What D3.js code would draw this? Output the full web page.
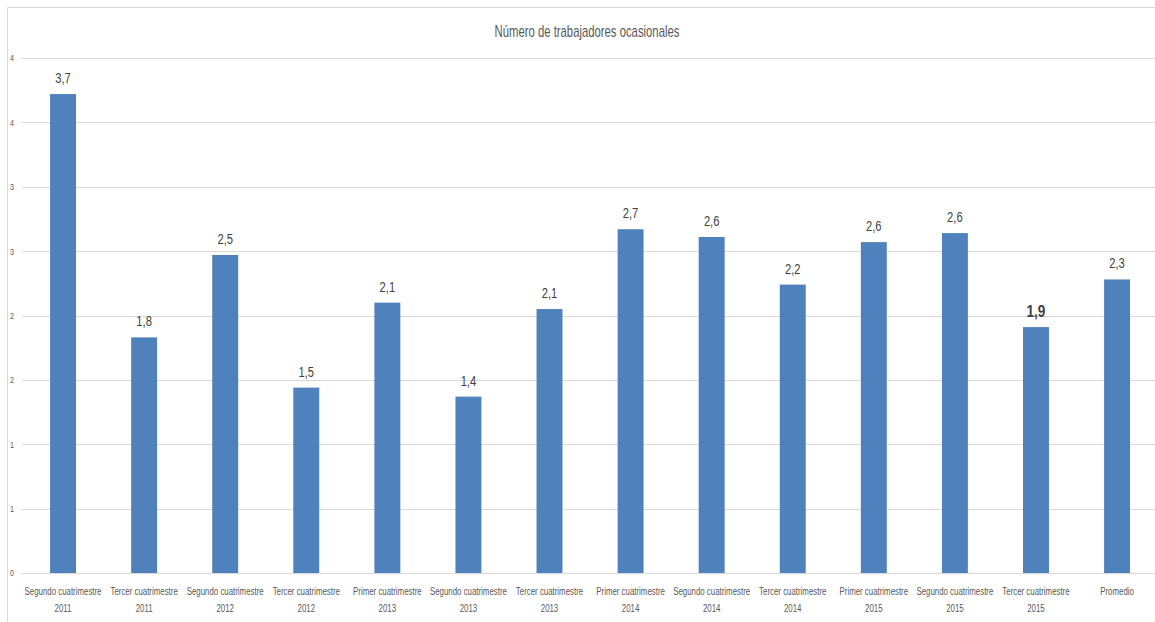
<!DOCTYPE html>
<html><head><meta charset="utf-8">
<script src="https://cdn.jsdelivr.net/npm/d3@7"></script>
<style>
body{margin:0;background:#fff;}
svg{display:block;font-family:"Liberation Sans",Arial,sans-serif;}
</style></head>
<body><svg id="c" width="1155" height="622"></svg>
<script>
const title = "Número de trabajadores ocasionales";
const categories = [
  ["Segundo cuatrimestre","2011"],["Tercer cuatrimestre","2011"],
  ["Segundo cuatrimestre","2012"],["Tercer cuatrimestre","2012"],
  ["Primer cuatrimestre","2013"],["Segundo cuatrimestre","2013"],
  ["Tercer cuatrimestre","2013"],["Primer cuatrimestre","2014"],
  ["Segundo cuatrimestre","2014"],["Tercer cuatrimestre","2014"],
  ["Primer cuatrimestre","2015"],["Segundo cuatrimestre","2015"],
  ["Tercer cuatrimestre","2015"],["Promedio",""]
];
const barValues = [3.72,1.83,2.47,1.44,2.10,1.37,2.05,2.67,2.61,2.24,2.57,2.64,1.91,2.28];
const valueLabels = ["3,7","1,8","2,5","1,5","2,1","1,4","2,1","2,7","2,6","2,2","2,6","2,6","1,9","2,3"];
const boldLabel = [false,false,false,false,false,false,false,false,false,false,false,false,true,false];
const yTicks = [0,0.5,1,1.5,2,2.5,3,3.5,4];
const yTickLabels = ["0","1","1","2","2","3","3","4","4"];

const svg = d3.select("#c");
const W = 1155, H = 622;
const SX = 0.8; // horizontal condensing (Calibri-like)
const x = d3.scaleBand().domain(d3.range(categories.length)).range([22.5, 1157.6]).paddingInner(0.68).paddingOuter(0.34);
const y = d3.scaleLinear().domain([0,4]).range([573,58]);

function narrow(sel, sx){
  sel.each(function(){
    const t = d3.select(this);
    const ax = +t.attr("x") || 0, ay = +t.attr("y") || 0;
    t.attr("transform", `translate(${ax},${ay}) scale(${sx},1) translate(${-ax},${-ay})`);
  });
}

// frame
svg.append("path").attr("d", `M7.5,${H} L7.5,7.5 L${W},7.5`).attr("fill","none").attr("stroke","#d9d9d9").attr("stroke-width",1);

// title
const tt = svg.append("text").attr("x",587).attr("y",37).attr("text-anchor","middle")
  .attr("font-size",16).attr("fill","#595959").text(title);
narrow(tt, 185 / tt.node().getComputedTextLength());

// grid
const yAxis = d3.axisLeft(y).tickValues(yTicks).tickSize(-(W-22)).tickFormat((d,i)=>yTickLabels[i]);
const gy = svg.append("g").attr("transform","translate(22,0)").call(yAxis);
gy.select(".domain").remove();
gy.selectAll(".tick line").attr("stroke","#d9d9d9").attr("shape-rendering","crispEdges");
gy.selectAll(".tick text").attr("x",-8).attr("font-size",9).attr("fill","#595959").attr("font-family","inherit");
narrow(gy.selectAll(".tick text"), SX);

// bars
svg.append("g").selectAll("rect").data(barValues).join("rect")
  .attr("x",(d,i)=>x(i)).attr("width",x.bandwidth())
  .attr("y",d=>y(d)).attr("height",d=>y(0)-y(d))
  .attr("fill","#4f81bd");

// value labels
const vl = svg.append("g").selectAll("text").data(barValues).join("text")
  .attr("x",(d,i)=>x(i)+x.bandwidth()/2).attr("y",(d,i)=>y(d)-(boldLabel[i]?10:11))
  .attr("text-anchor","middle")
  .attr("font-size",(d,i)=>boldLabel[i]?17:14)
  .attr("font-weight",(d,i)=>boldLabel[i]?"bold":"normal")
  .attr("fill","#404040").text((d,i)=>valueLabels[i]);
narrow(vl, SX);

// x labels
const gx = svg.append("g");
categories.forEach((c,i)=>{
  const cx = x(i)+x.bandwidth()/2;
  const t = gx.append("text").attr("x",cx).attr("y",595).attr("text-anchor","middle")
    .attr("font-size",11.5).attr("fill","#595959");
  t.append("tspan").attr("x",cx).attr("y",595).text(c[0]);
  if(c[1]) t.append("tspan").attr("x",cx).attr("y",612).text(c[1]);
});
const probe = gx.select("text tspan").node().getComputedTextLength();
narrow(gx.selectAll("text"), 77 / probe);
</script></body></html>
